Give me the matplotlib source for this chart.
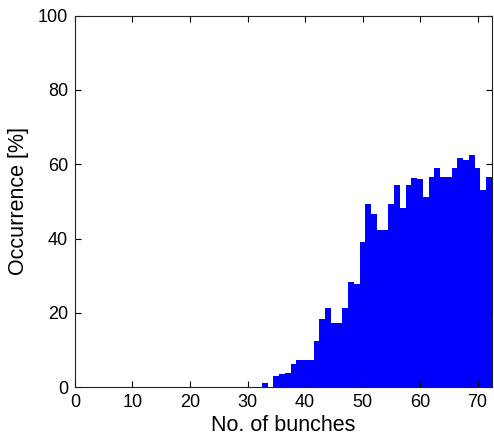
import matplotlib
matplotlib.use("Agg")
import matplotlib.pyplot as plt

bunches = list(range(1, 73))
occurrence = [0.0] * 32 + [
    1.2, 0.0, 3.0, 3.55, 3.9, 6.25, 7.2, 7.2, 7.2, 12.3,   # 33-42
    18.35, 21.4, 17.4, 17.4, 21.3, 28.2, 27.7, 39.2, 49.2, 46.6,  # 43-52
    42.3, 42.3, 49.2, 54.4, 48.1, 54.4, 56.4, 56.1, 51.3, 56.6,  # 53-62
    59.1, 56.6, 56.6, 59.1, 61.6, 61.2, 62.5, 59.1, 53.2, 56.6,  # 63-72
]
xticks = [0, 10, 20, 30, 40, 50, 60, 70]
yticks = [0, 20, 40, 60, 80, 100]

plt.rcParams['font.family'] = ['Liberation Sans', 'DejaVu Sans']
fig = plt.figure(figsize=(4.94, 4.43), dpi=100)
ax = fig.add_axes([0.1518, 0.126, 0.844, 0.8386])
ax.bar(bunches, occurrence, width=1.0, color='#0000ff', edgecolor='none', align='center')
ax.set_xlim(0, 72.5)
ax.set_ylim(0, 100)
ax.set_xticks(xticks)
ax.set_yticks(yticks)
ax.tick_params(direction='in', top=True, right=True, labelsize=13, length=4, width=0.8, pad=5)
for s in ax.spines.values():
    s.set_linewidth(0.8)
    s.set_color('#222222')
ax.set_xlabel('No. of bunches', fontsize=15.5, labelpad=3)
ax.set_ylabel('Occurrence [%]', fontsize=15.5, labelpad=6)
fig.savefig('out.png', dpi=100)
